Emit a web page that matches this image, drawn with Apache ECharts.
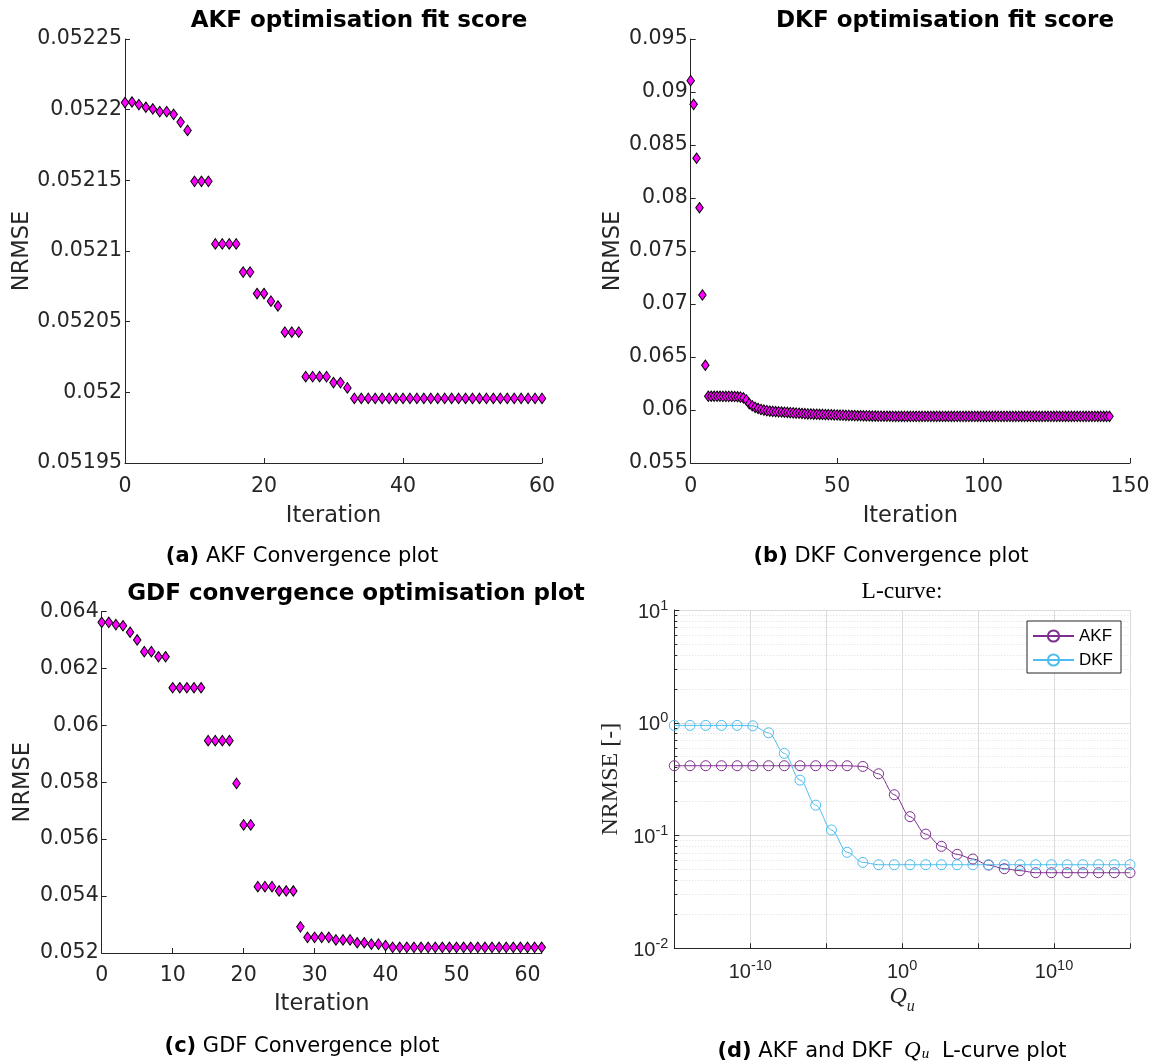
<!DOCTYPE html>
<html><head><meta charset="utf-8">
<script src="https://cdn.jsdelivr.net/npm/echarts@6/dist/echarts.min.js"></script>
<style>html,body{margin:0;padding:0;background:#fff}#c{width:1157px;height:1061px}</style>
</head><body><div id="c"></div>
<script>
// ---------- data ----------
// (a) AKF optimisation: NRMSE per iteration 0..60
const akfNrmse = [
  0.0522050, 0.0522054, 0.0522036, 0.0522017, 0.0522005, 0.0521986, 0.0521986, 0.0521967, 0.0521912, 0.0521853,
  0.0521493, 0.0521493, 0.0521493,
  0.0521050, 0.0521050, 0.0521050, 0.0521050,
  0.0520851, 0.0520851,
  0.0520699, 0.0520699,
  0.0520645, 0.0520611,
  0.0520426, 0.0520426, 0.0520426,
  0.0520111, 0.0520111, 0.0520111, 0.0520111,
  0.0520069, 0.0520069,
  0.0520031,
  0.0519957, 0.0519957, 0.0519957, 0.0519957, 0.0519957, 0.0519957, 0.0519957,
  0.0519957, 0.0519957, 0.0519957, 0.0519957, 0.0519957, 0.0519957, 0.0519957,
  0.0519957, 0.0519957, 0.0519957, 0.0519957, 0.0519957, 0.0519957, 0.0519957,
  0.0519957, 0.0519957, 0.0519957, 0.0519957, 0.0519957, 0.0519957, 0.0519957
];
// (b) DKF optimisation: NRMSE per iteration 0..143
const dkfNrmse = [
  0.09107, 0.08884, 0.08375, 0.07908, 0.07085, 0.06422,
  0.06130, 0.06130, 0.06130, 0.06130, 0.06130, 0.06129, 0.06129, 0.06129, 0.06128, 0.06127, 0.06125, 0.06122, 0.06115,
  0.06094, 0.06060, 0.06040, 0.06025, 0.06014, 0.06005, 0.05999, 0.05994, 0.05990, 0.05987,
  0.05985, 0.05983, 0.05981, 0.05979, 0.05977, 0.05975, 0.05973, 0.05971, 0.05969, 0.05967,
  0.05965, 0.05963, 0.05962, 0.05961, 0.05960, 0.05959, 0.05958, 0.05957, 0.05956, 0.05955,
  0.05954, 0.05953, 0.05952, 0.05951, 0.05950, 0.05949, 0.05948, 0.05947, 0.05946, 0.05946,
  0.05945, 0.05944, 0.05944, 0.05943, 0.05943, 0.05942, 0.05942, 0.05941, 0.05941, 0.05941,
  0.05940, 0.05940,
  0.05940, 0.05940, 0.05940, 0.05940, 0.05940, 0.05940, 0.05940, 0.05940, 0.05940, 0.05940,
  0.05940, 0.05940, 0.05940, 0.05940, 0.05940, 0.05940, 0.05940, 0.05940, 0.05940, 0.05940,
  0.05940, 0.05940, 0.05940, 0.05940, 0.05940, 0.05940, 0.05940, 0.05940, 0.05940, 0.05940,
  0.05940, 0.05940, 0.05940, 0.05940, 0.05940, 0.05940, 0.05940, 0.05940, 0.05940, 0.05940,
  0.05940, 0.05940, 0.05940, 0.05940, 0.05940, 0.05940, 0.05940, 0.05940, 0.05940, 0.05940,
  0.05940, 0.05940, 0.05940, 0.05940, 0.05940, 0.05940, 0.05940, 0.05940, 0.05940, 0.05940,
  0.05940, 0.05940, 0.05940, 0.05940, 0.05940, 0.05940, 0.05940, 0.05940, 0.05940, 0.05940,
  0.05940, 0.05940, 0.05940
];
// (c) GDF optimisation: NRMSE per iteration 0..62
const gdfNrmse = [
  0.06362, 0.06362, 0.06354, 0.06350, 0.06327, 0.06300, 0.06259, 0.06259, 0.06241, 0.06241,
  0.06132, 0.06132, 0.06132, 0.06132, 0.06132,
  0.05946, 0.05946, 0.05946, 0.05946,
  0.05796,
  0.05650, 0.05650,
  0.05433, 0.05433, 0.05433,
  0.05418, 0.05418, 0.05418,
  0.05292,
  0.05255, 0.05255, 0.05255, 0.05255,
  0.05246, 0.05246, 0.05246,
  0.05236, 0.05236,
  0.05231, 0.05231,
  0.05226,
  0.05220, 0.05220, 0.05220, 0.05220, 0.05220, 0.05220, 0.05220, 0.05220, 0.05220, 0.05220, 0.05220,
  0.05220, 0.05220, 0.05220, 0.05220, 0.05220, 0.05220, 0.05220, 0.05220, 0.05220, 0.05220, 0.05220
];
// (d) L-curve: Q_u values and NRMSE
const lcurveQ = [
  1e-15, 1.08e-14, 1.17e-13, 1.27e-12, 1.37e-11, 1.49e-10, 1.61e-9, 1.74e-8, 1.89e-7, 2.04e-6,
  2.21e-5, 2.39e-4, 2.59e-3, 2.81e-2, 0.304, 3.29, 35.6, 385, 4180, 45200,
  4.90e5, 5.30e6, 5.74e7, 6.21e8, 6.73e9, 7.28e10, 7.89e11, 8.53e12, 9.25e13, 1e15
];
const lcurveAkf = [
  0.416, 0.416, 0.416, 0.416, 0.416, 0.416, 0.416, 0.416, 0.416, 0.416,
  0.416, 0.416, 0.410, 0.353, 0.230, 0.147, 0.103, 0.0802, 0.0681, 0.0619,
  0.0547, 0.0508, 0.0488, 0.0468, 0.0468, 0.0468, 0.0468, 0.0468, 0.0468, 0.0468
];
const lcurveDkf = [
  0.948, 0.948, 0.948, 0.948, 0.948, 0.940, 0.815, 0.535, 0.310, 0.186,
  0.112, 0.0710, 0.0578, 0.0551, 0.0551, 0.0551, 0.0551, 0.0551, 0.0551, 0.0551,
  0.0551, 0.0551, 0.0551, 0.0551, 0.0551, 0.0551, 0.0551, 0.0551, 0.0551, 0.0551
];
const lcurveXLabelExp = [-10, 0, 10];   // labelled decades on the Q_u axis
const seriesNames = ['AKF', 'DKF'];

// ---------- styling ----------
const AX = '#262626';
const SANS = 'DejaVu Sans';
const MAG = '#ff00ff';
const AKF_C = '#7e2f8e';
const DKF_C = '#4dbeee';
const GRIDC = '#dcdcdc';

function valAxis(grid, o) {
  return {
    type: 'value', gridIndex: grid, min: o.min, max: o.max, interval: o.interval,
    name: o.name, nameLocation: 'middle', nameGap: o.nameGap,
    nameTextStyle: {color: AX, fontFamily: SANS, fontSize: 22.5},
    axisLine: {show: true, onZero: false, lineStyle: {color: AX, width: 1}},
    axisTick: {show: true, inside: true, length: 5, lineStyle: {color: AX}},
    axisLabel: {color: AX, fontFamily: SANS, fontSize: 20.5, margin: o.margin, showMaxLabel: o.showMax},
    splitLine: {show: false}
  };
}
function pairs(arr) { return arr.map((v, i) => [i, v]); }
function diamonds(name, arr, idx) {
  return {
    type: 'scatter', name: name, xAxisIndex: idx, yAxisIndex: idx,
    data: pairs(arr), symbol: 'diamond', symbolSize: [7.5, 10.5],
    itemStyle: {color: MAG, borderColor: '#000', borderWidth: 1, opacity: 1},
    emphasis: {disabled: true}, silent: true
  };
}
function supLabel(v) {
  const e = Math.round(Math.log10(v));
  return '{b|10}{s|' + e + '}';
}
const supRich = {
  b: {fontFamily: 'Liberation Sans', fontSize: 20, color: AX, verticalAlign: 'bottom', lineHeight: 24},
  s: {fontFamily: 'Liberation Sans', fontSize: 14.5, color: AX, verticalAlign: 'top', lineHeight: 24}
};
function lcurveSeries(name, vals, color) {
  return {
    type: 'line', name: name, xAxisIndex: 3, yAxisIndex: 3,
    data: lcurveQ.map((q, i) => [q, vals[i]]),
    smooth: 0.35, smoothMonotone: 'x',
    symbol: 'circle', symbolSize: 10, showSymbol: true,
    lineStyle: {color: color, width: 1},
    itemStyle: {color: 'rgba(255,255,255,0)', borderColor: color, borderWidth: 1},
    emphasis: {disabled: true}, silent: true
  };
}
const capStyle = function (extraRich) {
  return {fontFamily: SANS, fontWeight: 'normal', fontSize: 21, color: '#000',
    rich: Object.assign({b: {fontFamily: SANS, fontWeight: 'bold', fontSize: 21, color: '#000'}}, extraRich || {})};
};

const chart = echarts.init(document.getElementById('c'));
const option = {
  animation: false,
  backgroundColor: '#fff',
  title: [
    {text: 'AKF optimisation fit score', left: 359, top: 21, textAlign: 'center', textVerticalAlign: 'middle', padding: 0,
     textStyle: {fontFamily: SANS, fontWeight: 'bold', fontSize: 23, color: '#000'}},
    {text: 'DKF optimisation fit score', left: 945, top: 21, textAlign: 'center', textVerticalAlign: 'middle', padding: 0,
     textStyle: {fontFamily: SANS, fontWeight: 'bold', fontSize: 23, color: '#000'}},
    {text: 'GDF convergence optimisation plot', left: 356, top: 594, textAlign: 'center', textVerticalAlign: 'middle', padding: 0,
     textStyle: {fontFamily: SANS, fontWeight: 'bold', fontSize: 23, color: '#000'}},
    {text: 'L-curve:', left: 902, top: 592, textAlign: 'center', textVerticalAlign: 'middle', padding: 0,
     textStyle: {fontFamily: 'Liberation Serif', fontWeight: 'normal', fontSize: 23.5, color: '#000'}},
    {text: '{b|(a)} AKF Convergence plot', left: 302, top: 557, textAlign: 'center', textVerticalAlign: 'middle', padding: 0,
     textStyle: capStyle()},
    {text: '{b|(b)} DKF Convergence plot', left: 891, top: 557, textAlign: 'center', textVerticalAlign: 'middle', padding: 0,
     textStyle: capStyle()},
    {text: '{b|(c)} GDF Convergence plot', left: 302, top: 1047, textAlign: 'center', textVerticalAlign: 'middle', padding: 0,
     textStyle: capStyle()},
    {text: '{b|(d)}{t| AKF and DKF }{q|Q}{u|u}{t| L-curve plot}', left: 892, top: 1049, textAlign: 'center', textVerticalAlign: 'middle', padding: 0,
     textStyle: capStyle({
       b: {fontFamily: SANS, fontWeight: 'bold', fontSize: 21, color: '#000', verticalAlign: 'bottom', lineHeight: 26},
       t: {fontFamily: SANS, fontSize: 21, color: '#000', verticalAlign: 'bottom', lineHeight: 26},
       q: {fontFamily: 'Liberation Serif', fontStyle: 'italic', fontSize: 23, color: '#000', verticalAlign: 'bottom', lineHeight: 26, padding: [0, 1, 0, 4]},
       u: {fontFamily: 'Liberation Serif', fontStyle: 'italic', fontSize: 15, color: '#000', verticalAlign: 'bottom', lineHeight: 12, padding: [0, 6, 0, 0]}
     })}
  ],
  grid: [
    {left: 125, top: 39, width: 417, height: 424},
    {left: 690.7, top: 39, width: 439.3, height: 424},
    {left: 101.7, top: 611.5, width: 440, height: 341.5},
    {left: 674.3, top: 610, width: 455.7, height: 338.3}
  ],
  xAxis: [
    valAxis(0, {min: 0, max: 60, interval: 20, name: 'Iteration', nameGap: 42, margin: 13}),
    valAxis(1, {min: 0, max: 150, interval: 50, name: 'Iteration', nameGap: 42, margin: 13}),
    valAxis(2, {min: 0, max: 62, interval: 10, name: 'Iteration', nameGap: 40, margin: 12, showMax: false}),
    {
      type: 'log', logBase: 10, gridIndex: 3, min: 1e-15, max: 1e15, interval: 5,
      name: '{q|Q}{u|u}', nameLocation: 'middle', nameGap: 36,
      nameTextStyle: {rich: {
        q: {fontFamily: 'Liberation Serif', fontStyle: 'italic', fontSize: 24, color: AX, verticalAlign: 'top', lineHeight: 30},
        u: {fontFamily: 'Liberation Serif', fontStyle: 'italic', fontSize: 16, color: AX, verticalAlign: 'bottom', lineHeight: 16}
      }},
      axisLine: {show: true, onZero: false, lineStyle: {color: AX, width: 1}},
      axisTick: {show: true, inside: true, length: 5, lineStyle: {color: AX}},
      axisLabel: {margin: 10, formatter: function (v) {
        const e = Math.round(Math.log10(v));
        return lcurveXLabelExp.indexOf(e) >= 0 ? supLabel(v) : '';
      }, rich: supRich},
      splitLine: {show: true, lineStyle: {color: GRIDC, width: 1}}
    }
  ],
  yAxis: [
    valAxis(0, {min: 0.05195, max: 0.05225, interval: 0.00005, name: 'NRMSE', nameGap: 89, margin: 3}),
    valAxis(1, {min: 0.055, max: 0.095, interval: 0.005, name: 'NRMSE', nameGap: 66, margin: 3}),
    valAxis(2, {min: 0.052, max: 0.064, interval: 0.002, name: 'NRMSE', nameGap: 67, margin: 3}),
    {
      type: 'log', logBase: 10, gridIndex: 3, min: 0.01, max: 10,
      name: 'NRMSE [-]', nameLocation: 'middle', nameGap: 52,
      nameTextStyle: {fontFamily: 'Liberation Serif', fontSize: 24, color: AX},
      axisLine: {show: true, onZero: false, lineStyle: {color: AX, width: 1}},
      axisTick: {show: true, inside: true, length: 5, lineStyle: {color: AX}},
      minorTick: {show: true, splitNumber: 9, length: 3, lineStyle: {color: AX}},
      axisLabel: {margin: 6, formatter: supLabel, rich: supRich},
      splitLine: {show: true, lineStyle: {color: GRIDC, width: 1}},
      minorSplitLine: {show: true, lineStyle: {color: GRIDC, width: 1, type: [1, 2]}}
    }
  ],
  legend: {
    data: seriesNames, orient: 'vertical', left: 1027, top: 621,
    padding: [6, 8, 4, 5], itemGap: 6, itemWidth: 41, itemHeight: 14,
    backgroundColor: '#fff', borderColor: AX, borderWidth: 1, borderRadius: 0,
    textStyle: {fontFamily: 'Liberation Sans', fontSize: 17, color: '#000', lineHeight: 18}
  },
  series: [
    diamonds('AKF fit score', akfNrmse, 0),
    diamonds('DKF fit score', dkfNrmse, 1),
    diamonds('GDF fit score', gdfNrmse, 2),
    lcurveSeries(seriesNames[0], lcurveAkf, AKF_C),
    lcurveSeries(seriesNames[1], lcurveDkf, DKF_C)
  ]
};
chart.setOption(option);
</script>
</body></html>
